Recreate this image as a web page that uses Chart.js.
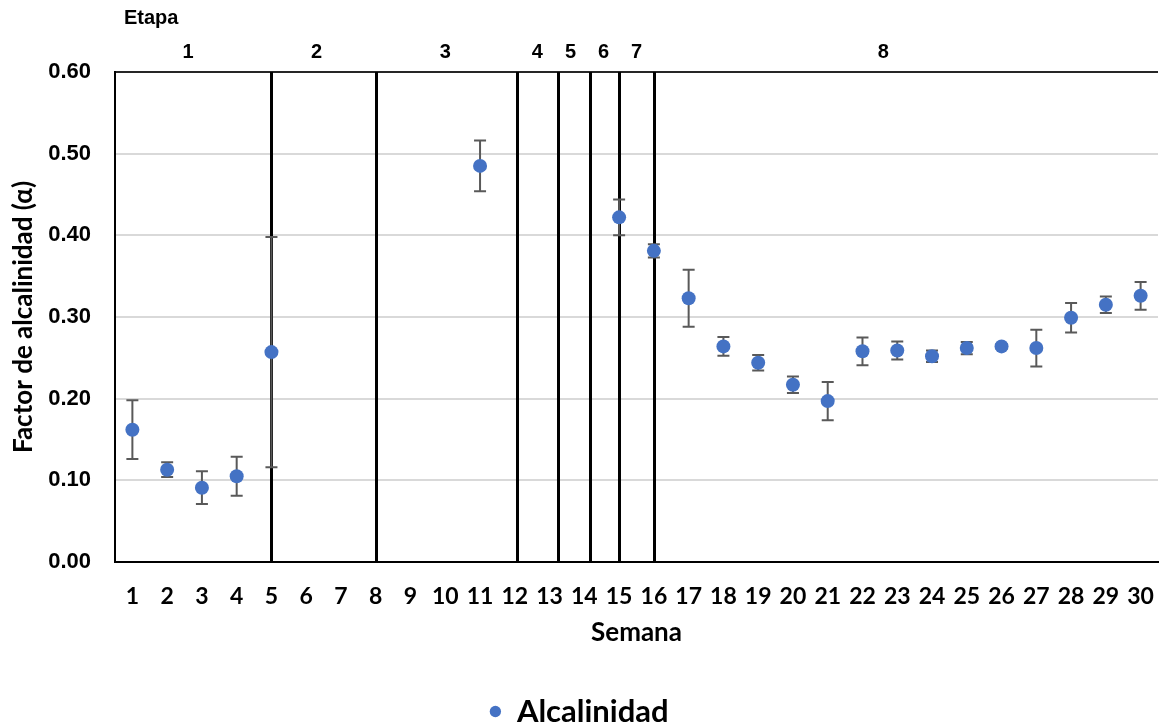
<!DOCTYPE html>
<html lang="es">
<head>
<meta charset="UTF-8" />
<title>Factor de alcalinidad</title>
<script src="https://cdn.jsdelivr.net/npm/chart.js"></script>
<style>
  body { margin: 0; background: #fff; }
  #caja { width: 1159px; height: 727px; }
</style>
</head>
<body>
<div id="caja"><canvas id="grafico"></canvas></div>
<script>
  // semanas del ensayo
  const semanas = [1, 2, 3, 4, 5, 6, 7, 8, 9, 10, 11, 12, 13, 14, 15,
                   16, 17, 18, 19, 20, 21, 22, 23, 24, 25, 26, 27, 28, 29, 30];

  // factor de alcalinidad (alfa) por semana, null = sin medicion
  const alcalinidad = [0.162, 0.113, 0.091, 0.105, 0.257, null, null, null, null, null,
                       0.485, null, null, null, 0.422, 0.381, 0.323, 0.264, 0.244, 0.217,
                       0.197, 0.258, 0.259, 0.252, 0.262, 0.264, 0.262, 0.299, 0.315, 0.326];

  // desviacion (barra de error +/-)
  const errores = [0.036, 0.009, 0.020, 0.024, 0.141, null, null, null, null, null,
                   0.031, null, null, null, 0.022, 0.008, 0.035, 0.0115, 0.0095, 0.010,
                   0.0235, 0.017, 0.011, 0.007, 0.0075, 0.003, 0.0225, 0.018, 0.010, 0.017];

  // limites entre etapas (en semanas) y donde va el numero de cada etapa
  const limitesEtapa = [5, 8, 12.05, 13.25, 14.15, 15, 16];
  const etapas = ['1', '2', '3', '4', '5', '6', '7', '8'];
  const posEtapa = [2.6, 6.3, 10.0, 12.65, 13.6, 14.55, 15.5, 22.6];

  const yTicks = [0, 0.1, 0.2, 0.3, 0.4, 0.5, 0.6];

  // lineas de etapa, barras de error y rotulos superiores
  const pluginEtapas = {
    id: 'etapas',
    beforeDatasetsDraw(chart) {
      const { ctx, chartArea: a, scales: { x, y } } = chart;
      ctx.save();
      ctx.strokeStyle = '#000';
      ctx.lineWidth = 3;
      limitesEtapa.forEach(function (v) {
        const px = Math.round(x.getPixelForValue(v)) + 0.5;
        ctx.beginPath();
        ctx.moveTo(px, a.top);
        ctx.lineTo(px, a.bottom + 1);
        ctx.stroke();
      });

      ctx.strokeStyle = '#595959';
      ctx.lineWidth = 2;
      alcalinidad.forEach(function (v, i) {
        if (v == null) return;
        const px = x.getPixelForValue(semanas[i]);
        const y1 = y.getPixelForValue(v + errores[i]);
        const y2 = y.getPixelForValue(v - errores[i]);
        ctx.beginPath();
        ctx.moveTo(px, y1); ctx.lineTo(px, y2);
        ctx.moveTo(px - 6, y1); ctx.lineTo(px + 6, y1);
        ctx.moveTo(px - 6, y2); ctx.lineTo(px + 6, y2);
        ctx.stroke();
      });
      ctx.restore();
    },
    afterDraw(chart) {
      const { ctx, scales: { x } } = chart;
      ctx.save();
      ctx.fillStyle = '#000';
      ctx.font = 'bold 20px "Liberation Sans", Arial, sans-serif';
      ctx.textBaseline = 'middle';
      ctx.textAlign = 'left';
      ctx.fillText('Etapa', 124, 18);
      ctx.textAlign = 'center';
      etapas.forEach(function (t, i) {
        ctx.fillText(t, x.getPixelForValue(posEtapa[i]), 52);
      });
      ctx.restore();
    }
  };

  const puntos = semanas.map(function (s, i) {
    return { x: s, y: alcalinidad[i] };
  });

  new Chart(document.getElementById('grafico'), {
    type: 'scatter',
    data: {
      datasets: [{
        label: 'Alcalinidad',
        data: puntos,
        backgroundColor: '#4472C4',
        borderColor: '#4472C4',
        borderWidth: 0,
        pointRadius: 7,
        pointHoverRadius: 7
      }]
    },
    options: {
      responsive: true,
      maintainAspectRatio: false,
      animation: false,
      layout: { autoPadding: false, padding: { top: 72, left: 0, right: 1, bottom: -10 } },
      plugins: {
        tooltip: { enabled: false },
        legend: {
          position: 'bottom',
          labels: {
            usePointStyle: true,
            boxWidth: 12,
            boxHeight: 8,
            padding: 10,
            color: '#000',
            font: { family: 'Lato, sans-serif', size: 31, weight: 'bold' }
          }
        }
      },
      scales: {
        x: {
          type: 'linear',
          min: 0.5,
          max: 30.5,
          afterBuildTicks: function (s) {
            s.ticks = semanas.map(function (v) { return { value: v }; });
          },
          afterFit: function (s) {
            s.height = 124;
            s.paddingLeft = 0;
            s.paddingRight = 0;
          },
          grid: { display: true, color: 'rgba(0,0,0,0)', drawTicks: false },
          border: { display: true, color: '#000', width: 2 },
          ticks: {
            padding: 21,
            autoSkip: false,
            maxRotation: 0,
            color: '#000',
            font: { family: 'Lato, sans-serif', size: 23, weight: 'bold' }
          },
          title: {
            display: true,
            text: 'Semana',
            color: '#000',
            padding: { top: 0, bottom: 38 },
            font: { family: 'Lato, sans-serif', size: 26, weight: 'bold' }
          }
        },
        y: {
          min: 0,
          max: 0.6,
          afterBuildTicks: function (s) {
            s.ticks = yTicks.map(function (v) { return { value: v }; });
          },
          afterFit: function (s) { s.width = 115; },
          grid: {
            drawTicks: false,
            lineWidth: 2,
            color: function (c) {
              return c.tick && Math.abs(c.tick.value - 0.6) < 1e-6 ? '#262626' : '#d9d9d9';
            }
          },
          border: { display: true, color: '#000', width: 2 },
          ticks: {
            padding: 24,
            color: '#000',
            font: { family: '"Liberation Sans", Arial, sans-serif', size: 22, weight: 'bold' },
            callback: function (v) { return v.toFixed(2); }
          },
          title: {
            display: true,
            text: 'Factor de alcalinidad (α)',
            color: '#000',
            padding: { top: 8, bottom: 0 },
            font: { family: 'Lato, sans-serif', size: 26, weight: 'bold' }
          }
        }
      }
    },
    plugins: [pluginEtapas]
  });
</script>
</body>
</html>
